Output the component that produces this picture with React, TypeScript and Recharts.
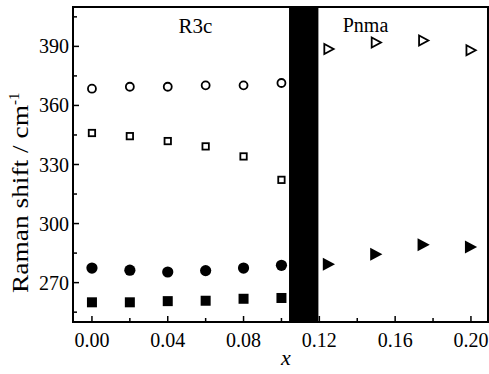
import React from 'react';
import { ScatterChart, Scatter, XAxis, YAxis, ReferenceArea } from 'recharts';

const r3cX = [0, 0.02, 0.04, 0.06, 0.08, 0.1];
const openCircleY = [368.5, 369.5, 369.5, 370.2, 370.2, 371.4];
const openSquareY = [346, 344.4, 341.9, 339.2, 334.1, 322.2];
const filledCircleY = [277.4, 276.3, 275.4, 276.1, 277.4, 278.8];
const filledSquareY = [260, 260, 260.6, 260.8, 261.8, 262.2];
const pnmaX = [0.125, 0.15, 0.175, 0.2];
const openTriangleY = [388.7, 392, 393, 388];
const filledTriangleY = [279.3, 284.4, 289.3, 288.1];

const xTicks = [0, 0.02, 0.04, 0.06, 0.08, 0.1, 0.12, 0.14, 0.16, 0.18, 0.2];
const yTicks = [255, 270, 285, 300, 315, 330, 345, 360, 375, 390, 405];
const xDomain = [-0.01, 0.209];
const yDomain = [250, 410];
const bandX = [0.104, 0.1195];
const phaseLabels = ['R3c', 'Pnma'];

const FONT = "'Liberation Serif', 'Times New Roman', Tinos, 'DejaVu Serif', serif";

const zip = (xs: number[], ys: number[]) => xs.map((x, i) => ({ x, y: ys[i] }));

const OpenCircle = (p: any) => <circle cx={p.cx} cy={p.cy} r={4} fill="#fff" stroke="#000" strokeWidth={1.8} />;
const OpenSquare = (p: any) => <rect x={p.cx - 3.2} y={p.cy - 3.2} width={6.4} height={6.4} fill="#fff" stroke="#000" strokeWidth={1.8} />;
const FilledCircle = (p: any) => <circle cx={p.cx} cy={p.cy} r={5.6} fill="#000" />;
const FilledSquare = (p: any) => <rect x={p.cx - 5} y={p.cy - 5} width={10} height={10} fill="#000" />;
const OpenTriangle = (p: any) => (
  <polygon points={`${p.cx - 4.5},${p.cy - 5} ${p.cx - 4.5},${p.cy + 5} ${p.cx + 4.8},${p.cy}`} fill="#fff" stroke="#000" strokeWidth={1.8} strokeLinejoin="miter" />
);
const FilledTriangle = (p: any) => (
  <polygon points={`${p.cx - 6},${p.cy - 6.5} ${p.cx - 6},${p.cy + 6.5} ${p.cx + 6.2},${p.cy}`} fill="#000" />
);

const XTick = (props: any) => {
  const { x, y, payload } = props;
  const v = payload.value as number;
  const major = Math.round(v * 100) % 4 === 0;
  return (
    <g>
      <line x1={x} x2={x} y1={y} y2={y - (major ? 6 : 4)} stroke="#000" strokeWidth={1.5} />
      {major && (
        <text x={x} y={y + 25} textAnchor="middle" fontFamily={FONT} fontSize={20} fill="#000">
          {v.toFixed(2)}
        </text>
      )}
    </g>
  );
};

const YTick = (props: any) => {
  const { x, y, payload } = props;
  const v = payload.value as number;
  const major = (v - 270) % 30 === 0;
  return (
    <g>
      <line x1={x} x2={x + (major ? 6 : 4)} y1={y} y2={y} stroke="#000" strokeWidth={1.5} />
      {major && (
        <text x={x - 4} y={y + 7} textAnchor="end" fontFamily={FONT} fontSize={20} fill="#000">
          {v}
        </text>
      )}
    </g>
  );
};

const YLabel = () => (
  <text transform="translate(28,293) rotate(-90)" textAnchor="start" fontFamily={FONT} fontSize={23} fill="#000">
    <tspan textLength={188} lengthAdjust="spacingAndGlyphs">Raman shift / cm</tspan>
    <tspan fontSize={15} dy={-9}>-1</tspan>
  </text>
);

export default function App() {
  return (
    <div style={{ position: 'absolute', left: 0, top: 0, fontFamily: FONT }}>
      <ScatterChart width={489} height={374} margin={{ top: 7, right: 1, left: 0, bottom: 0 }} style={{ fontFamily: FONT }}>
        <XAxis
          type="number"
          dataKey="x"
          domain={xDomain}
          ticks={xTicks}
          interval={0}
          height={52}
          tickSize={0}
          tickMargin={0}
          tick={<XTick />}
          tickLine={false}
          axisLine={{ stroke: '#000', strokeWidth: 2 }}
          allowDataOverflow
        />
        <YAxis
          type="number"
          dataKey="y"
          domain={yDomain}
          ticks={yTicks}
          interval={0}
          width={73}
          tickSize={0}
          tickMargin={0}
          tick={<YTick />}
          tickLine={false}
          axisLine={{ stroke: '#000', strokeWidth: 2 }}
          allowDataOverflow
        />
        <ReferenceArea x1={bandX[0]} x2={bandX[1]} y1={yDomain[0]} y2={yDomain[1]} fill="#000" fillOpacity={1} stroke="none" />
        <ReferenceArea x1={xDomain[0]} x2={xDomain[1]} y1={yDomain[0]} y2={yDomain[1]} fill="none" stroke="#000" strokeWidth={2} />
        <Scatter data={zip(r3cX, openCircleY)} shape={<OpenCircle />} isAnimationActive={false} />
        <Scatter data={zip(r3cX, openSquareY)} shape={<OpenSquare />} isAnimationActive={false} />
        <Scatter data={zip(r3cX, filledCircleY)} shape={<FilledCircle />} isAnimationActive={false} />
        <Scatter data={zip(r3cX, filledSquareY)} shape={<FilledSquare />} isAnimationActive={false} />
        <Scatter data={zip(pnmaX, openTriangleY)} shape={<OpenTriangle />} isAnimationActive={false} />
        <Scatter data={zip(pnmaX, filledTriangleY)} shape={<FilledTriangle />} isAnimationActive={false} />
        <text x={195.5} y={33} textAnchor="middle" fontFamily={FONT} fontSize={21} fill="#000">{phaseLabels[0]}</text>
        <text x={365.5} y={32} textAnchor="middle" fontFamily={FONT} fontSize={20} fill="#000">{phaseLabels[1]}</text>
        <text x={286} y={365} textAnchor="middle" fontFamily={FONT} fontSize={22} fontStyle="italic" fill="#000">x</text>
        <YLabel />
      </ScatterChart>
    </div>
  );
}
